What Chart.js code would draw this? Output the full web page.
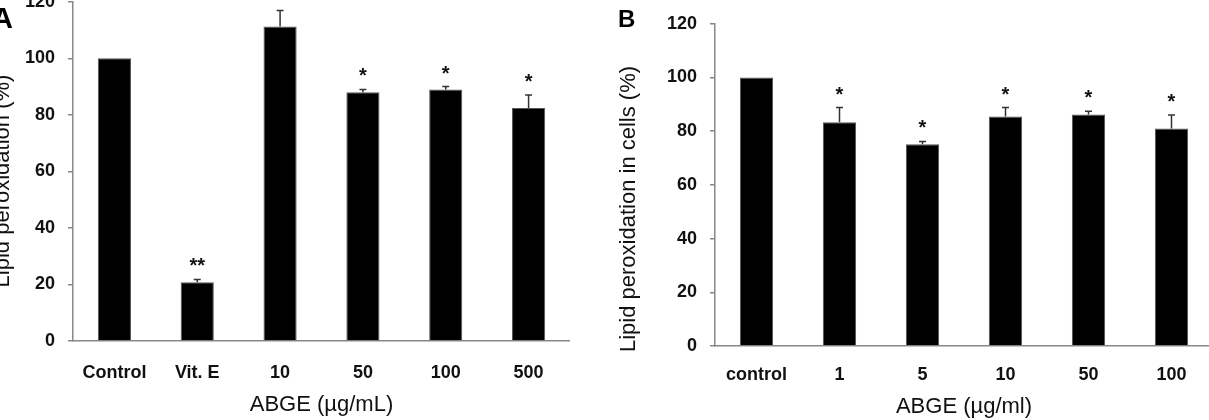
<!DOCTYPE html>
<html>
<head>
<meta charset="utf-8">
<script src="https://cdn.jsdelivr.net/npm/chart.js@4.4.0/dist/chart.umd.min.js"></script>
<style>
  html, body { margin: 0; padding: 0; background: #fff; width: 1209px; height: 420px; overflow: hidden; position: relative; }
  .panel { position: absolute; }
  #wrapA { left: -10px; top: -22px; }
  #wrapB { left: 590px; top: 0; }
  .letter { position: absolute; font-family: Arial, "Liberation Sans", sans-serif; font-weight: bold; line-height: 1; color: #000; }
</style>
</head>
<body>
<div class="panel" id="wrapA"><canvas id="chartA" width="580" height="442"></canvas></div>
<div class="panel" id="wrapB"><canvas id="chartB" width="623" height="420"></canvas></div>
<div class="letter" style="left:-8px;top:4px;font-size:29px">A</div>
<div class="letter" style="left:618px;top:7px;font-size:24px">B</div>
<script>
const FONT = 'Arial, "Liberation Sans", sans-serif';

// panel A - lipid peroxidation
const labelsA = ['Control', 'Vit. E', '10', '50', '100', '500'];
const valuesA = [100, 20.8, 111.3, 88, 89, 82.4];
const errorsA = [0, 1, 5.6, 1, 1, 4.6];
const starsA = ['', '**', '', '*', '*', '*'];

// panel B - lipid peroxidation in cells
const labelsB = ['control', '1', '5', '10', '50', '100'];
const valuesB = [100, 83.3, 75.1, 85.5, 86.2, 81];
const errorsB = [0, 5.5, 1.1, 3.3, 1.2, 5];
const starsB = ['', '*', '*', '*', '*', '*'];

const yTicks = [0, 20, 40, 60, 80, 100, 120];

// error bars, significance stars and the rotated y title
const extras = {
  id: 'extras',
  afterDatasetsDraw(chart, args, opts) {
    const ctx = chart.ctx;
    const y = chart.scales.y;
    const bars = chart.getDatasetMeta(0).data;
    ctx.save();
    bars.forEach((bar, i) => {
      const top = y.getPixelForValue(opts.values[i] + opts.errors[i]);
      if (opts.errors[i] > 0) {
        ctx.strokeStyle = '#333';
        ctx.lineWidth = 1.5;
        ctx.beginPath();
        ctx.moveTo(bar.x, bar.y);
        ctx.lineTo(bar.x, top);
        ctx.moveTo(bar.x - 3.5, top);
        ctx.lineTo(bar.x + 3.5, top);
        ctx.stroke();
      }
      if (opts.stars[i]) {
        ctx.fillStyle = '#111';
        ctx.font = 'bold 20px ' + FONT;
        ctx.textAlign = 'center';
        ctx.textBaseline = 'alphabetic';
        ctx.fillText(opts.stars[i], bar.x, top - 7);
      }
    });
    ctx.translate(opts.titleX, opts.titleY);
    ctx.rotate(-Math.PI / 2);
    ctx.fillStyle = '#111';
    ctx.font = '22px ' + FONT;
    ctx.textAlign = 'center';
    ctx.textBaseline = 'middle';
    ctx.fillText(opts.title, 0, 0);
    ctx.restore();
  }
};

function makeChart(id, labels, values, errors, stars, cfg) {
  return new Chart(document.getElementById(id), {
    type: 'bar',
    data: {
      labels: labels,
      datasets: [{
        data: values,
        backgroundColor: '#000',
        borderColor: '#555',
        borderWidth: 1,
        barPercentage: 0.4,
        categoryPercentage: 1
      }]
    },
    options: {
      responsive: false,
      animation: false,
      devicePixelRatio: 1,
      layout: { padding: { top: cfg.padTop, left: 0, right: 0, bottom: 0 } },
      plugins: {
        legend: { display: false },
        tooltip: { enabled: false },
        extras: { values, errors, stars, title: cfg.yTitle, titleX: cfg.titleX, titleY: cfg.titleY }
      },
      scales: {
        x: {
          grid: { display: false },
          border: { display: true, color: '#888', width: 1.5 },
          ticks: { color: '#111', font: { family: FONT, size: 18, weight: 'bold' }, padding: cfg.xPad, maxRotation: 0, autoSkip: false },
          title: { display: true, text: cfg.xTitle, color: '#111', font: { family: FONT, size: 22 }, padding: { top: 0, bottom: cfg.titlePad } },
          afterFit: s => { s.height = cfg.xHeight; }
        },
        y: {
          min: 0,
          max: 120,
          afterBuildTicks: s => { s.ticks = yTicks.map(v => ({ value: v })); },
          ticks: { color: '#111', font: { family: FONT, size: 18, weight: 'bold' }, padding: 13 },
          grid: { drawOnChartArea: false, drawTicks: true, tickLength: 5, color: '#888', lineWidth: 1.5 },
          border: { color: '#888', width: 1.5 },
          afterFit: s => { s.width = cfg.yWidth; }
        }
      }
    },
    plugins: [extras]
  });
}

makeChart('chartA', labelsA, valuesA, errorsA, starsA, {
  padTop: 1, xPad: 13, titlePad: 2, xHeight: 79, yWidth: 83,
  xTitle: 'ABGE (µg/mL)', yTitle: 'Lipid peroxidation (%)', titleX: 12.5, titleY: 203
});

makeChart('chartB', labelsB, valuesB, errorsB, starsB, {
  padTop: 23, xPad: 10, titlePad: 0, xHeight: 74, yWidth: 125,
  xTitle: 'ABGE (µg/ml)', yTitle: 'Lipid peroxidation in cells (%)', titleX: 38.5, titleY: 209
});
</script>
</body>
</html>
